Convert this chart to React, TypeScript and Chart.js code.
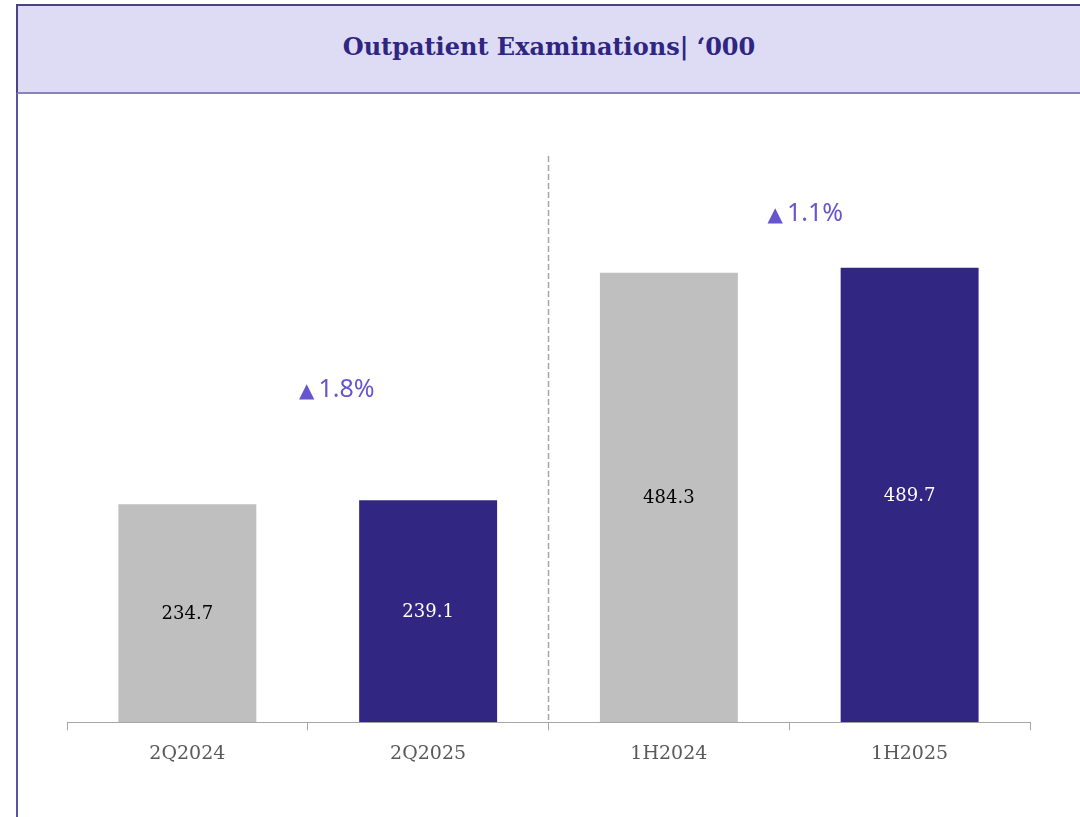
import React, { useEffect, useRef } from "react";
import { Chart, registerables } from "chart.js";

Chart.register(...registerables);

const categories = ["2Q2024", "2Q2025", "1H2024", "1H2025"];
const values = [234.7, 239.1, 484.3, 489.7];
const barColors = ["#bfbfbf", "#312782", "#bfbfbf", "#312782"];
const labelColors = ["#000000", "#ffffff", "#000000", "#ffffff"];
const growthLabels = ["1.8%", "1.1%"];
const growthValues = [360, 550];
const growthOffsets = [29, 16];
const title = "Outpatient Examinations|  \u2018000";

const SERIF = "'DejaVu Serif', 'Liberation Serif', serif";
const SANS = "'Noto Sans', 'DejaVu Sans', sans-serif";

const overlayPlugin = {
  id: "overlay",
  afterDatasetsDraw(chart: any) {
    const { ctx, chartArea, scales } = chart;
    const x = scales.x;
    const y = scales.y;
    const meta = chart.getDatasetMeta(0);
    ctx.save();
    // value labels inside bars
    ctx.font = `18px ${SERIF}`;
    ctx.textAlign = "center";
    ctx.textBaseline = "middle";
    meta.data.forEach((bar: any, i: number) => {
      ctx.fillStyle = labelColors[i];
      const yc = (bar.y + bar.base) / 2;
      ctx.fillText(String(values[i].toFixed(1)), bar.x, yc + 1);
    });
    // dashed separator between groups
    const sepX = (x.getPixelForValue(1) + x.getPixelForValue(2)) / 2;
    ctx.strokeStyle = "#a6a6a6";
    ctx.lineWidth = 1.5;
    ctx.setLineDash([6, 3]);
    ctx.beginPath();
    ctx.moveTo(sepX, chartArea.top);
    ctx.lineTo(sepX, chartArea.bottom);
    ctx.stroke();
    ctx.setLineDash([]);
    // growth labels
    growthLabels.forEach((g, gi) => {
      const cx =
        (x.getPixelForValue(gi * 2) + x.getPixelForValue(gi * 2 + 1)) / 2 + growthOffsets[gi];
      const yy = y.getPixelForValue(growthValues[gi]);
      ctx.fillStyle = "#6655cf";
      ctx.textBaseline = "alphabetic";
      ctx.font = `25px ${SANS}`;
      const tw = ctx.measureText(g).width;
      ctx.font = `20px 'DejaVu Sans', sans-serif`;
      const triW = ctx.measureText("\u25B2").width;
      const gap = 4;
      const total = triW + gap + tw;
      const left = cx - total / 2;
      ctx.textAlign = "left";
      ctx.fillText("\u25B2", left, yy + 9);
      ctx.font = `25px ${SANS}`;
      ctx.fillText(g, left + triW + gap, yy + 9);
    });
    ctx.restore();
  },
};

export default function App() {
  const canvasRef = useRef<HTMLCanvasElement | null>(null);

  useEffect(() => {
    document.body.style.margin = "0";
    const canvas = canvasRef.current;
    if (!canvas) return;
    const chart = new Chart(canvas, {
      type: "bar",
      data: {
        labels: categories,
        datasets: [
          {
            data: values,
            backgroundColor: barColors,
            borderWidth: 0,
            categoryPercentage: 1,
            barPercentage: 0.573,
          },
        ],
      },
      options: {
        animation: false,
        responsive: false,
        maintainAspectRatio: false,
        layout: { padding: { left: 67, right: 50, top: 156, bottom: 40 } },
        plugins: {
          legend: { display: false },
          tooltip: { enabled: false },
          title: { display: false },
        },
        scales: {
          x: {
            offset: true,
            grid: {
              offset: true,
              drawOnChartArea: false,
              drawTicks: true,
              tickLength: 8,
              color: "#a6a6a6",
            },
            border: { display: true, color: "#a6a6a6", width: 1 },
            ticks: {
              color: "#595959",
              font: { family: SERIF, size: 19 },
              padding: 12,
            },
          },
          y: {
            display: false,
            min: 0,
            max: 610,
          },
        },
      },
      plugins: [overlayPlugin],
    });
    return () => chart.destroy();
  }, []);

  return (
    <div style={{ position: "relative", width: 1080, height: 817, overflow: "hidden", background: "#ffffff" }}>
      <canvas
        ref={canvasRef}
        width={1080}
        height={817}
        style={{ position: "absolute", left: 0, top: 0, width: 1080, height: 817 }}
      />
      <div
        style={{
          position: "absolute",
          left: 16,
          top: 4,
          width: 2,
          height: 813,
          background: "#5b53a6",
        }}
      />
      <div
        style={{
          position: "absolute",
          left: 16,
          top: 4,
          width: 1080 - 16,
          height: 86,
          background: "#dedcf4",
          borderTop: "2px solid #4b4385",
          borderLeft: "2px solid #4b4385",
          borderBottom: "2px solid #8a84bb",
          boxSizing: "content-box",
          display: "flex",
          alignItems: "center",
          justifyContent: "center",
          fontFamily: SERIF,
          fontWeight: "bold",
          fontSize: 24,
          color: "#2f2582",
        }}
      >
        <span style={{ marginLeft: -2, marginBottom: 6 }}>{title}</span>
      </div>
    </div>
  );
}
